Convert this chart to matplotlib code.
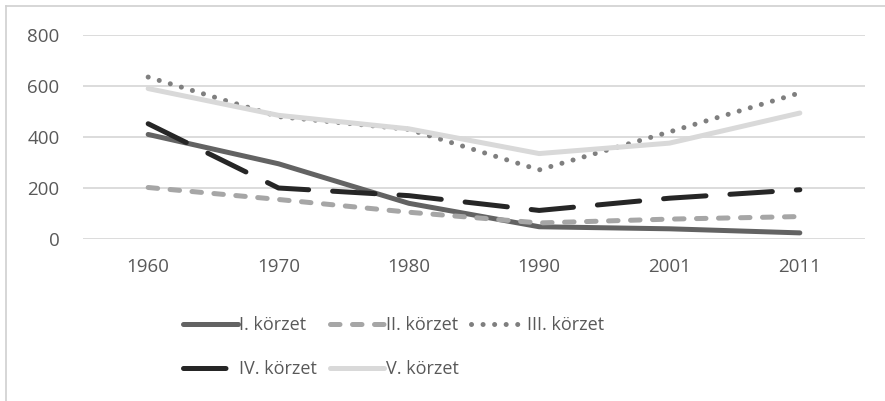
import matplotlib
matplotlib.use("Agg")
import matplotlib.pyplot as plt
from matplotlib.lines import Line2D

plt.rcParams['font.family'] = ['Open Sans', 'DejaVu Sans']

years = ['1960', '1970', '1980', '1990', '2001', '2011']
series_names = ['I. körzet', 'II. körzet', 'III. körzet', 'IV. körzet', 'V. körzet']
korzet_1 = [410, 295, 140, 48, 40, 24]
korzet_2 = [202, 155, 105, 63, 78, 88]
korzet_3 = [635, 480, 430, 271, 420, 573]
korzet_4 = [452, 200, 170, 112, 160, 193]
korzet_5 = [590, 485, 432, 335, 376, 494]

fig = plt.figure(figsize=(8.85, 4.01), dpi=100)
ax = fig.add_axes([83 / 885, 1 - 239 / 401, (865 - 83) / 885, (239 - 35) / 401])

x = range(len(years))
lw = 3.6
l1, = ax.plot(x, korzet_1, color='#636363', lw=lw, solid_capstyle='round', label=series_names[0])
l2, = ax.plot(x, korzet_2, color='#a6a6a6', lw=lw, dashes=(1.9, 2.5), dash_capstyle='round', label=series_names[1])
l3, = ax.plot(x, korzet_3, color='#7f7f7f', lw=lw, dashes=(0.01, 2.3), dash_capstyle='round', label=series_names[2])
l4, = ax.plot(x, korzet_4, color='#262626', lw=lw, dashes=(8.5, 4.8), dash_capstyle='round', label=series_names[3])
l5, = ax.plot(x, korzet_5, color='#d9d9d9', lw=lw, solid_capstyle='round', label=series_names[4])

ax.set_xlim(-0.5, len(years) - 0.5)
ax.set_ylim(0, 800)
ax.set_yticks([0, 200, 400, 600, 800])
ax.set_xticks(list(x))
ax.set_xticklabels(years)
ax.grid(axis='y', color='#d9d9d9', lw=1.3)
ax.set_axisbelow(True)
for s in ax.spines.values():
    s.set_visible(False)
ax.tick_params(length=0, labelsize=13.5, colors='#595959')
ax.tick_params(axis='x', pad=14)
ax.tick_params(axis='y', pad=17)

# row-wise legend order for 3 columns
handles = [l1, l4, l2, l5, l3]
fig.legend(handles=handles, labels=[h.get_label() for h in handles],
           loc='center', bbox_to_anchor=(394 / 885, 1 - 347 / 401), ncol=3,
           frameon=False, fontsize=13, handlelength=3.0, handletextpad=0.1,
           columnspacing=0.7, labelspacing=1.45, labelcolor='#595959')

# chart area border
fig.add_artist(Line2D([6 / 885, 6 / 885], [0, 1 - 6 / 401], transform=fig.transFigure, color='#d0d0d0', lw=1.2))
fig.add_artist(Line2D([6 / 885, 1], [1 - 6 / 401, 1 - 6 / 401], transform=fig.transFigure, color='#d0d0d0', lw=1.2))

fig.savefig('out.png', dpi=100)
